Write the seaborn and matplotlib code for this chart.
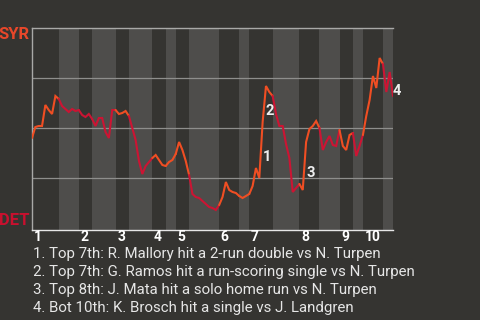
import matplotlib
matplotlib.use("Agg")
import matplotlib.pyplot as plt
import seaborn as sns
import pandas as pd
import numpy as np

# Syracuse win probability after each play (0 = DET wins, 1 = SYR wins)
win_prob = [
    0.45, 0.505, 0.51, 0.51, 0.615, 0.59, 0.57, 0.66, 0.645, 0.61,
    0.595, 0.58, 0.595, 0.585, 0.59, 0.565, 0.555, 0.57, 0.545, 0.51,
    0.55, 0.55, 0.48, 0.45, 0.59, 0.59, 0.57, 0.575, 0.585, 0.56,
    0.50, 0.44, 0.335, 0.27, 0.31, 0.33, 0.35, 0.365, 0.34, 0.315,
    0.31, 0.33, 0.34, 0.37, 0.43, 0.39, 0.335, 0.265, 0.17, 0.155,
    0.15, 0.135, 0.12, 0.105, 0.10, 0.09, 0.115, 0.155, 0.23, 0.19,
    0.18, 0.175, 0.16, 0.15, 0.16, 0.17, 0.21, 0.30, 0.25, 0.53,
    0.71, 0.68, 0.66, 0.57, 0.51, 0.51, 0.42, 0.35, 0.18, 0.20,
    0.22, 0.19, 0.43, 0.495, 0.51, 0.535, 0.50, 0.39, 0.43, 0.46,
    0.415, 0.41, 0.49, 0.41, 0.39, 0.465, 0.475, 0.36, 0.41, 0.465,
    0.56, 0.64, 0.76, 0.70, 0.85, 0.82, 0.68, 0.78, 0.66,
]

# First play of each half inning (top 1, bottom 1, top 2, ...)
half_starts = [0, 8, 14, 18, 25, 29, 36, 40, 43, 47,
               56, 62, 65, 72, 80, 86, 92, 96, 99, 105]
inning_labels = ["1", "2", "3", "4", "5", "6", "7", "8", "9", "10"]

# Line colour for each half inning
ORANGE = "#f04e23"
RED = "#cc1433"
half_colors = [ORANGE, RED, RED, RED, ORANGE, RED, ORANGE, ORANGE, ORANGE, RED,
               ORANGE, ORANGE, ORANGE, RED, ORANGE, RED, ORANGE, RED, ORANGE, RED]

# Key plays: index of the play the swing starts from, and description
event_plays = [68, 69, 81, 107]
event_texts = [
    "1. Top 7th: R. Mallory hit a 2-run double vs N. Turpen",
    "2. Top 7th: G. Ramos hit a run-scoring single vs N. Turpen",
    "3. Top 8th: J. Mata hit a solo home run vs N. Turpen",
    "4. Bot 10th: K. Brosch hit a single vs J. Landgren",
]

BG = "#353431"
BAND = "#4e4d4b"

sns.set_theme(style="dark")
plt.rcParams["font.family"] = ["Roboto", "DejaVu Sans"]

df = pd.DataFrame({"play": np.arange(len(win_prob)), "wp": win_prob})
n_last = len(win_prob) - 1

W, H = 480, 320
fig = plt.figure(figsize=(W / 100, H / 100), dpi=100, facecolor=BG)
ax = fig.add_axes([32 / W, 1 - 230 / H, 361 / W, 202 / H])
ax.set_facecolor(BG)

# Shade bottom halves
bounds = half_starts + [n_last]
for k in range(len(half_starts)):
    if k % 2 == 1:
        ax.axvspan(bounds[k], bounds[k + 1], color=BAND, lw=0, zorder=0)

# Grid lines
for gy in (0.25, 0.5, 0.75):
    ax.axhline(gy, color="#8e8e8c", lw=0.9, zorder=1)

# Win probability line, coloured by half inning
for k in range(len(half_starts)):
    lo, hi = bounds[k], bounds[k + 1]
    sub = df[(df["play"] >= lo) & (df["play"] <= hi)]
    sns.lineplot(data=sub, x="play", y="wp", ax=ax, color=half_colors[k],
                 lw=1.5, zorder=3, legend=False, solid_joinstyle="miter")

ax.set_xlim(0, n_last)
ax.set_ylim(-0.01, 1.0)
ax.set_xticks([])
ax.set_yticks([])
ax.set_xlabel("")
ax.set_ylabel("")
ax.grid(False)

ax.spines["right"].set_visible(False)
ax.spines["top"].set_color("#a9a9a7")
ax.spines["left"].set_color("#a9a9a7")
ax.spines["bottom"].set_color("#e6e6e6")
for side in ("top", "left", "bottom"):
    ax.spines[side].set_linewidth(1.0)

# Inning numbers under the axis
for lab, start in zip(inning_labels, half_starts[::2]):
    ax.annotate(lab, xy=(start, 0), xycoords=("data", "axes fraction"),
                xytext=(1.2, -8.0), textcoords="offset points",
                ha="left", va="baseline", color="white",
                fontsize=10, fontweight="bold")

# Event markers beside the swing
for num, p in enumerate(event_plays, start=1):
    mid_x = p + 0.5
    mid_y = (win_prob[p] + win_prob[p + 1]) / 2
    ax.annotate(str(num), xy=(mid_x, mid_y), xytext=(1.2, -8.2),
                textcoords="offset points", ha="left", va="baseline",
                color="#eeeeee", fontsize=10.5, fontweight="bold", zorder=5)

# Team labels
fig.text(29.5 / W, 1 - 39.3 / H, "SYR", ha="right", va="baseline",
         color="#e8472a", fontsize=12, fontweight="bold")
fig.text(29.5 / W, 1 - 225 / H, "DET", ha="right", va="baseline",
         color="#c8102e", fontsize=12, fontweight="bold")

# Event descriptions
for j, txt in enumerate(event_texts):
    fig.text(33 / W, 1 - (258.3 + 17.75 * j) / H, txt, ha="left",
             va="baseline", color="#e6e6e6", fontsize=10.8)

fig.savefig("out.png", dpi=100, facecolor=BG)
